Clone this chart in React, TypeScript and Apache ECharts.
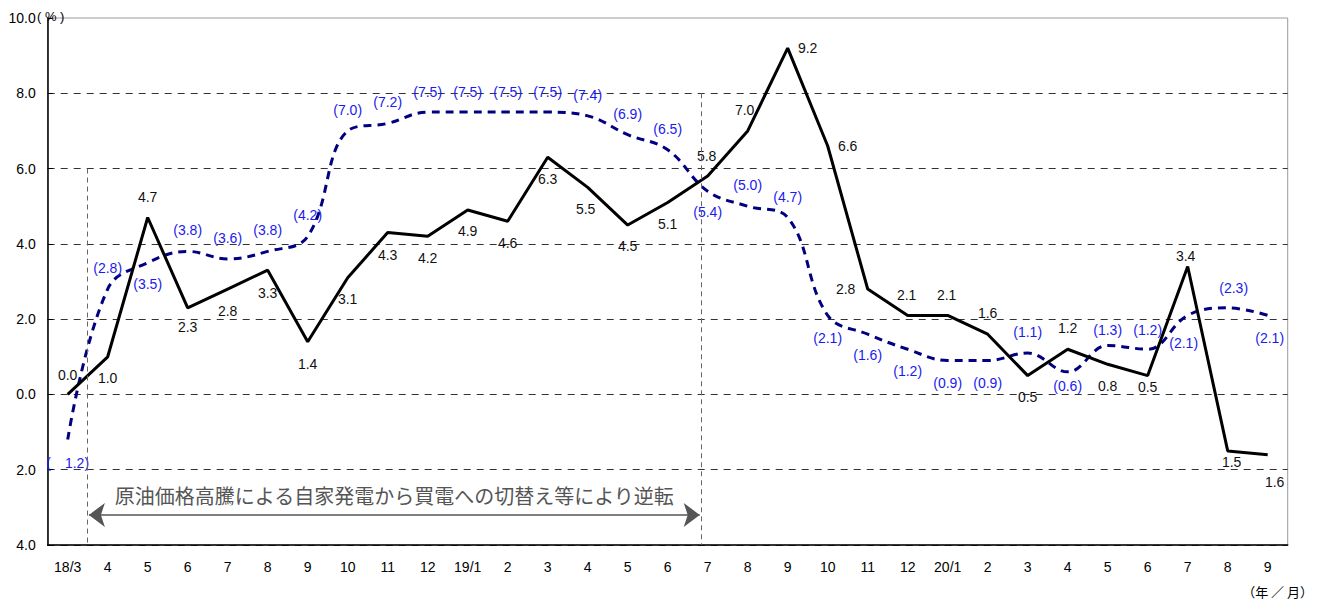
import React, { useEffect, useRef } from 'react';
import * as echarts from 'echarts';

const categories = ['18/3', '4', '5', '6', '7', '8', '9', '10', '11', '12', '19/1', '2', '3', '4', '5', '6', '7', '8', '9', '10', '11', '12', '20/1', '2', '3', '4', '5', '6', '7', '8', '9'];

const blackValues = [0.0, 1.0, 4.7, 2.3, 2.8, 3.3, 1.4, 3.1, 4.3, 4.2, 4.9, 4.6, 6.3, 5.5, 4.5, 5.1, 5.8, 7.0, 9.2, 6.6, 2.8, 2.1, 2.1, 1.6, 0.5, 1.2, 0.8, 0.5, 3.4, -1.5, -1.6];

const blueValues = [-1.2, 2.8, 3.5, 3.8, 3.6, 3.8, 4.2, 7.0, 7.2, 7.5, 7.5, 7.5, 7.5, 7.4, 6.9, 6.5, 5.4, 5.0, 4.7, 2.1, 1.6, 1.2, 0.9, 0.9, 1.1, 0.6, 1.3, 1.2, 2.1, 2.3, 2.1];

const yTicks = { min: -4, max: 10, interval: 2 };

// label placement relative to each point, in pixels [dx, dy] (separate from values)
const blackLabelShift = [
  [0, -19], [0, 21], [0, -20], [0, 19], [0, 22], [0, 23], [0, 22], [0, 21], [0, 22], [0, 22],
  [0, 21], [0, 22], [0, 22], [-2, 22], [0, 21], [0, 22], [-1, -20], [-3, -21], [20, 0], [20, 0],
  [-22, 0], [-1, -20], [-1, -20], [0, -21], [0, 21], [0, -21], [0, 22], [0, 11], [-2, -10], [4, 11],
  [7, 27],
];
const blueLabelShift = [
  [0, 23], [0, -21], [0, 21], [0, -21], [0, -21], [0, -21], [0, -21], [0, -21], [0, -21], [0, -20],
  [0, -20], [0, -20], [0, -20], [0, -21], [0, -21], [0, -21], [0, 21], [0, -21], [0, -20], [0, 23],
  [0, 21], [0, 22], [0, 22], [0, 22], [0, -21], [0, 14], [0, -15], [0, -19], [-4, 28], [6, -20],
  [2, 23],
];

// annotation (positions on hidden 0..31 value axis)
const annotStart = 1;
const annotEnd = 16.35;
const annotText = '原油価格高騰による自家発電から買電への切替え等により逆転';

const FONT = '"Liberation Sans", Arial, sans-serif';
const JP = '"Noto Sans CJK JP", sans-serif';

export default function App() {
  const ref = useRef<HTMLDivElement>(null);
  useEffect(() => {
    const chart = echarts.init(ref.current!, null, { renderer: 'svg' });
    const option: any = {
      animation: false,
      textStyle: { fontFamily: FONT },
      grid: {
        left: 47.7, right: 33.3, top: 18, bottom: 60,
        show: true, borderColor: '#9a9a9a', borderWidth: 1,
      },
      xAxis: [
        {
          type: 'category',
          data: categories,
          boundaryGap: true,
          axisLine: { onZero: false, lineStyle: { color: '#000', width: 1.5 } },
          axisTick: { inside: true, length: 5, lineStyle: { color: '#000' } },
          axisLabel: { color: '#000', fontSize: 14, margin: 15, interval: 0 },
          splitLine: { show: false },
        },
        { type: 'value', min: 0, max: 31, show: false },
      ],
      yAxis: {
        type: 'value',
        min: yTicks.min, max: yTicks.max, interval: yTicks.interval,
        axisLine: { show: true, lineStyle: { color: '#000', width: 1.5 } },
        axisTick: { show: true, inside: true, length: 5, lineStyle: { color: '#000' } },
        axisLabel: {
          color: '#000', fontSize: 14, margin: 12,
          formatter: (v: number) => Math.abs(v).toFixed(1),
        },
        splitLine: { show: true, showMaxLine: false, lineStyle: { color: '#333', type: [7, 6], width: 1 } },
      },
      graphic: [
        {
          type: 'text', left: 37, top: 10,
          style: { text: '( % )', fill: '#000', fontSize: 13, fontFamily: FONT },
        },
        {
          type: 'text', right: 8, top: 585,
          style: { text: '（年 ／ 月）', fill: '#000', fontSize: 13, fontFamily: JP },
        },
      ],
      series: [
        {
          name: 'annot',
          type: 'line',
          xAxisIndex: 1,
          data: [],
          silent: true,
          markLine: {
            silent: true,
            animation: false,
            symbol: ['none', 'none'],
            label: { show: false },
            lineStyle: { color: '#666', type: [5, 4], width: 1 },
            data: [
              [{ coord: [annotStart, 6] }, { coord: [annotStart, -4] }],
              [{ coord: [annotEnd, 8] }, { coord: [annotEnd, -4] }],
              [
                {
                  coord: [annotStart + 0.03, -3.2],
                  symbol: 'arrow', symbolSize: [18, 16],
                  lineStyle: { color: '#555', type: 'solid', width: 1.5 },
                  label: {
                    show: true, position: 'insideMiddleTop', distance: 9,
                    formatter: annotText, color: '#555', fontSize: 20,
                    fontFamily: JP,
                  },
                },
                { coord: [annotEnd - 0.05, -3.2], symbol: 'arrow', symbolSize: [18, 16] },
              ],
            ],
          },
        },
        {
          name: 'blue',
          type: 'line',
          data: blueValues.map((v, i) => ({
            value: v,
            label: { position: blueLabelShift[i] },
          })),
          smooth: 0.4,
          showSymbol: true,
          symbol: 'circle',
          symbolSize: 0.1,
          itemStyle: { color: '#000080' },
          lineStyle: { color: '#000080', width: 3, type: [8, 6] },
          label: {
            show: true, color: '#1a1aee', fontSize: 14, align: 'center', verticalAlign: 'middle',
            formatter: (p: any) => {
              const v = p.value as number;
              return v < 0 ? '(\u3000' + Math.abs(v).toFixed(1) + ')' : '(' + v.toFixed(1) + ')';
            },
          },
          labelLayout: { hideOverlap: false },
          z: 3,
        },
        {
          name: 'black',
          type: 'line',
          data: blackValues.map((v, i) => ({
            value: v,
            label: { position: blackLabelShift[i] },
          })),
          showSymbol: true,
          symbol: 'circle',
          symbolSize: 0.1,
          itemStyle: { color: '#000' },
          lineStyle: { color: '#000', width: 3 },
          label: {
            show: true, color: '#111', fontSize: 14, align: 'center', verticalAlign: 'middle',
            formatter: (p: any) => Math.abs(p.value as number).toFixed(1),
          },
          labelLayout: { hideOverlap: false },
          z: 4,
        },
      ],
    };
    chart.setOption(option);
    return () => chart.dispose();
  }, []);
  return <div ref={ref} style={{ width: 1321, height: 605, position: 'absolute', left: 0, top: 0 }} />;
}
